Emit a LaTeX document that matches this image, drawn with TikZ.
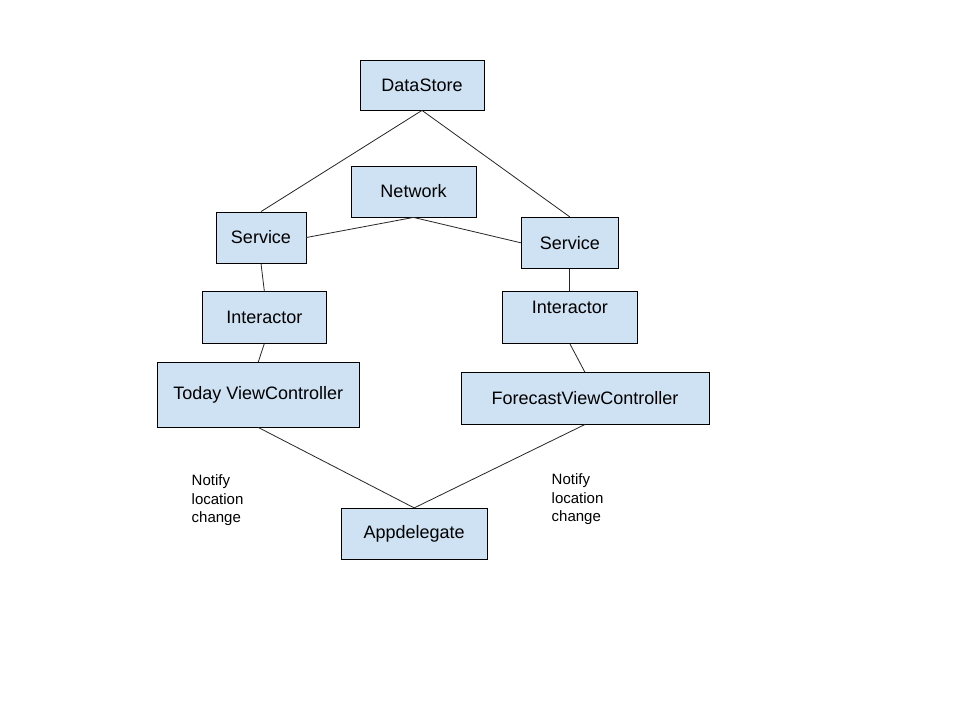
\documentclass[tikz,border=0pt]{standalone}
\usepackage{fontspec}
\setmainfont{Liberation Sans}
\definecolor{boxblue}{HTML}{CFE2F3}
\begin{document}
\begin{tikzpicture}[x=1pt,y=-1pt,
    box/.style={draw,fill=boxblue,line width=0.8pt,inner sep=0pt,
      font=\fontsize{18}{21}\selectfont},
    note/.style={anchor=north west,inner sep=0pt,align=left,
      font=\fontsize{15}{18.5}\selectfont},
    link/.style={line width=0.8pt,black!85}]
        \useasboundingbox[fill=white] (0,0) rectangle (960,720);

        % Data layer
        \node[box,minimum width=124pt,minimum height=50pt] (DataStore) at (422,85) {DataStore};
        \node[box,minimum width=125pt,minimum height=51pt] (Network) at (413.5,191.5) {Network};
        \node[box,minimum width=90pt,minimum height=51pt] (ServiceLeft) at (261,237.5) {Service};
        \node[box,minimum width=97pt,minimum height=51pt] (ServiceRight) at (569.8,242.8) {Service};

        % Interactors and controllers
        \node[box,minimum width=124pt,minimum height=52pt] (InteractorLeft) at (264.3,317.2) {Interactor};
        \node[box,minimum width=135pt,minimum height=51.5pt,text depth=21pt] (InteractorRight) at (569.8,317.5) {Interactor};
        \node[box,minimum width=202pt,minimum height=64.7pt] (TodayVC) at (258.3,394.7) {Today ViewController};
        \node[box,minimum width=248pt,minimum height=51.3pt] (ForecastVC) at (585,398.4) {ForecastViewController};
        \node[box,minimum width=145.7pt,minimum height=51pt] (AppDelegate) at (414.2,533.8) {Appdelegate};

        \node[note] (NotifyLeft) at (191.5,474.5) {Notify\\location\\change};
        \node[note] (NotifyRight) at (551.5,473.5) {Notify\\location\\change};

        % Connectors
        \draw[link] (DataStore.south) -- (ServiceLeft.north);
        \draw[link] (DataStore.south) -- (ServiceRight.north);
        \draw[link] (Network.south) -- (ServiceLeft.east);
        \draw[link] (Network.south) -- (ServiceRight.west);
        \draw[link] (ServiceLeft.south) -- (InteractorLeft.north);
        \draw[link] (ServiceRight.south) -- (InteractorRight.north);
        \draw[link] (InteractorLeft.south) -- (TodayVC.north);
        \draw[link] (InteractorRight.south) -- (ForecastVC.north);
        \draw[link] (TodayVC.south) -- (AppDelegate.north);
        \draw[link] (ForecastVC.south) -- (AppDelegate.north);
    \end{tikzpicture}
\end{document}
